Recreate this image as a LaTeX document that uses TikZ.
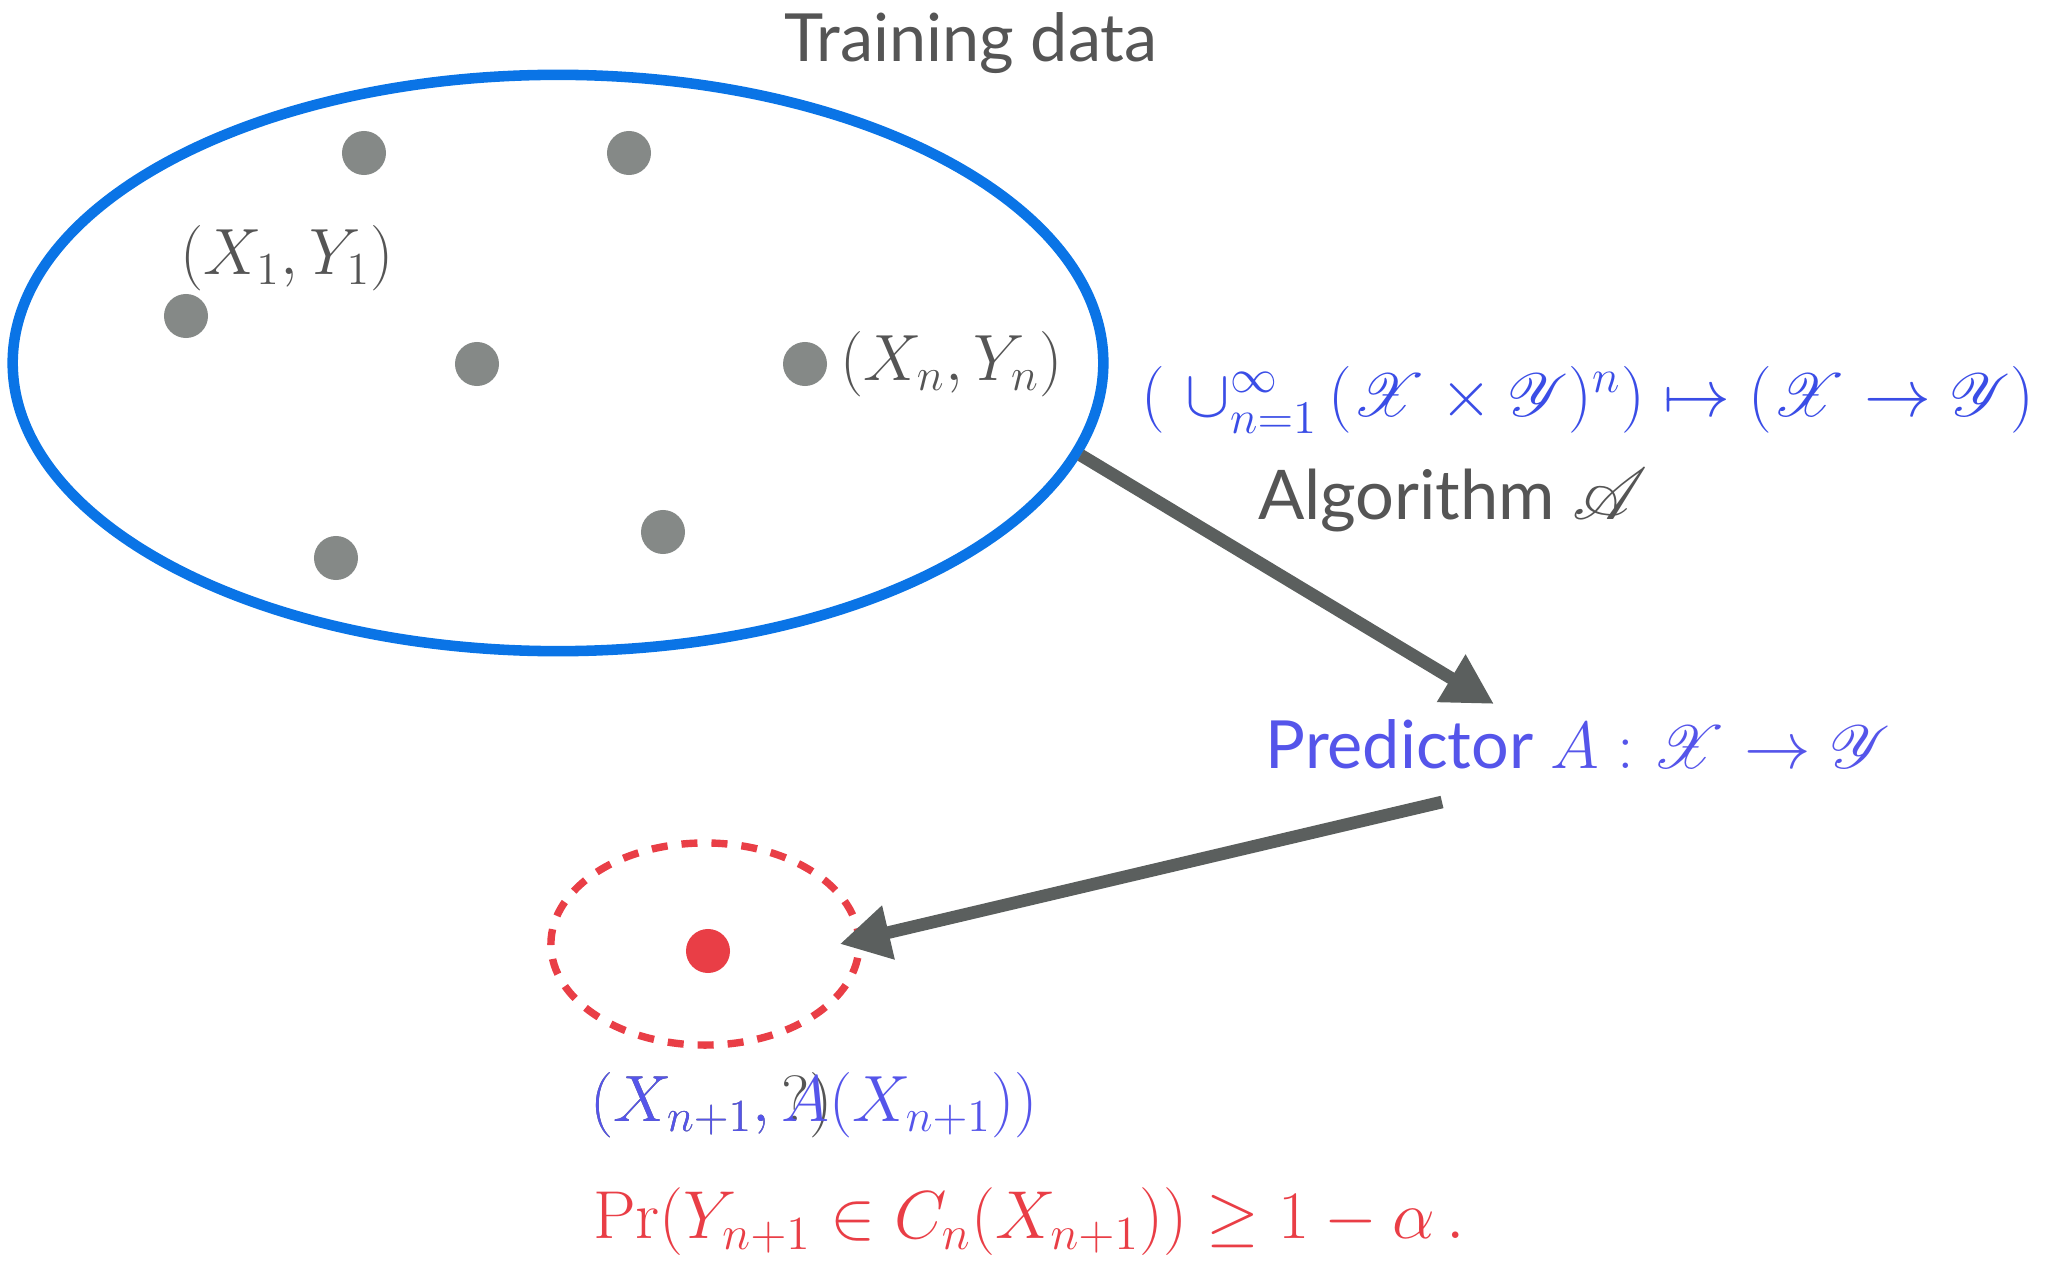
\RequirePackage{fix-cm}
\documentclass[tikz,border=0pt]{standalone}
\usepackage{fontspec}
\setsansfont{Lato}
\usepackage{mathrsfs}
\definecolor{CPBlue}{HTML}{0A74E6}
\definecolor{CPGrey}{HTML}{858987}
\definecolor{CPDark}{HTML}{5B5F5E}
\definecolor{CPText}{HTML}{555555}
\definecolor{CPIndigo}{HTML}{3A4DE6}
\definecolor{CPViolet}{HTML}{5555EA}
\definecolor{CPRed}{HTML}{E93E46}
\usetikzlibrary{positioning,shapes.geometric,arrows.meta}

\begin{document}
\begin{tikzpicture}[x=0.01cm, y=-0.01cm,
    dot/.style={circle, fill=#1, inner sep=0pt, minimum size=0.44cm},
    dot/.default=CPGrey,
    lbl/.style={inner sep=0pt, font=\fontsize{18.6}{22}\selectfont, text=CPText},
    word/.style={inner sep=0pt, font=\sffamily\fontsize{19.5}{22}\selectfont},
    flow/.style={-{Triangle[length=0.5cm, width=0.52cm]}, line width=3.6pt, draw=CPDark}]
    \path[use as bounding box] (0,0) rectangle (2055,1264);
    % training set
    \node[ellipse, draw=CPBlue, line width=3pt, minimum width=10.9cm,
      minimum height=5.76cm, inner sep=0pt] (train) at (558,363) {};
    \node[word, text=CPText, font=\sffamily\fontsize{18.9}{22}\selectfont] (title) at (971,43) {Training data};
    \node[dot] (d1) at (364,153) {};
    \node[dot] (d2) at (629,153) {};
    \node[dot] (d3) at (186,316) {};
    \node[dot] (d4) at (477,364) {};
    \node[dot] (dn) at (805,364) {};
    \node[dot] (d6) at (336,558) {};
    \node[dot] (d7) at (663,532) {};
    \node[lbl] (p1) at (287,258) {$(X_1, Y_1)$};
    \node[lbl, right=0.12cm of dn] (pn) {$(X_n, Y_n)$};
    % algorithm and predictor
    \node[lbl, text=CPIndigo, font=\fontsize{19}{24}\selectfont] (maps) at (1588,400)
      {$(\ \cup_{n=1}^{\infty}\,(\mathscr{X}\times\mathscr{Y})^n)\mapsto(\mathscr{X}\to\mathscr{Y})$};
    \node[word, text=CPText] (algo) at (1453,500) {Algorithm $\mathscr{A}$};
    \node[word, text=CPViolet, font=\sffamily\fontsize{18.9}{22}\selectfont] (pred) at (1578,744)
      {Predictor $A : \mathscr{X} \to \mathscr{Y}$};
    % test point
    \node[ellipse, draw=CPRed, line width=2.1pt, dash pattern=on 0.16cm off 0.14cm,
      minimum width=3.08cm, minimum height=2.02cm, inner sep=0pt] (test) at (705,944) {};
    \node[dot=CPRed] (dt) at (708,951) {};
    \node[lbl, anchor=west] (q) at (590,1105) {$(X_{n+1}, ?)$};
    \node[lbl, anchor=west, text=CPViolet] (qa) at (590,1105) {$(X_{n+1}, A(X_{n+1}))$};
    \node[lbl, text=CPRed, font=\fontsize{19.3}{24}\selectfont] (cov) at (1029,1222)
      {$\Pr(Y_{n+1} \in C_n(X_{n+1})) \geq 1 - \alpha\,.$};
    \coordinate (a1) at (1494,704);
    \coordinate (b1) at (1442,802);
    \draw[flow] (train.-10.5) -- (a1);
    \draw[flow] (b1) -- ([xshift=-0.23cm]test.east);
\end{tikzpicture}
\end{document}
